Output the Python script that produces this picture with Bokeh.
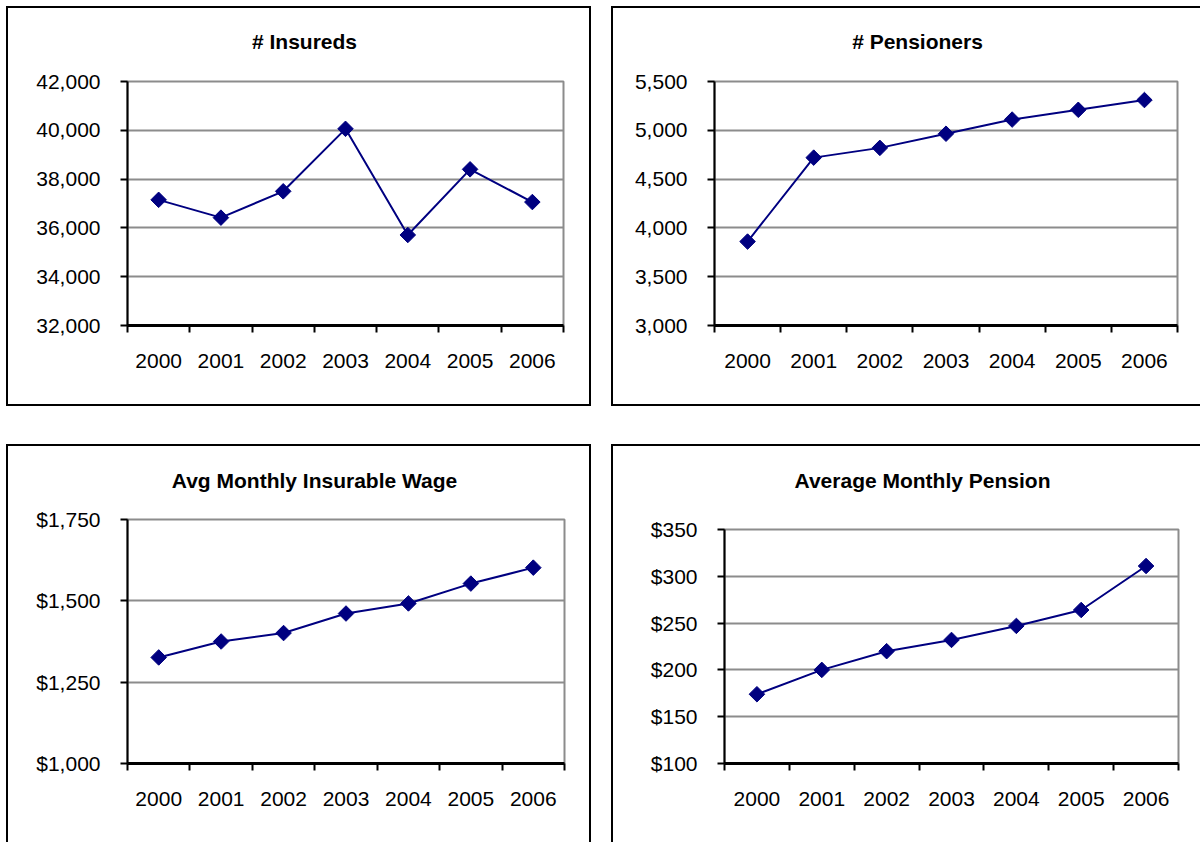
import math

from bokeh.plotting import figure
from bokeh.layouts import column, row
from bokeh.models import FixedTicker, NumeralTickFormatter, LinearAxis
from bokeh.embed import file_html
from bokeh.resources import INLINE

# Yearly series
years = ["2000", "2001", "2002", "2003", "2004", "2005", "2006"]
insureds = [37150, 36420, 37500, 40060, 35710, 38400, 37060]
pensioners = [3860, 4720, 4820, 4965, 5110, 5210, 5310]
wage = [1326, 1375, 1401, 1461, 1492, 1553, 1602]
pension = [174, 200, 220, 232, 247, 264, 311]

# Value-axis ticks for each chart
insureds_ticks = [32000, 34000, 36000, 38000, 40000, 42000]
pensioners_ticks = [3000, 3500, 4000, 4500, 5000, 5500]
wage_ticks = [1000, 1250, 1500, 1750]
pension_ticks = [100, 150, 200, 250, 300, 350]

FONT = "Liberation Sans"
NAVY = "#000080"
GRID = "#8c8c8c"
TEXT_SIZE = "21px"
BORDER = 2


def make_chart(title, values, yticks, fmt, width, height, borders, title_pos,
               box_sides, margin):
    """borders and title_pos are measured from the inner top-left corner of the box."""
    left, right, top, bottom = borders
    n = len(years)
    xs = [i + 0.5 for i in range(n)]
    y0, y1 = yticks[0], yticks[-1]

    css = {f"border-{side}": f"{BORDER}px solid black" for side in box_sides}

    p = figure(width=width, height=height, x_range=(0, n), y_range=(y0, y1),
               output_backend="svg", toolbar_location=None,
               min_border_left=left, min_border_right=right,
               min_border_top=top, min_border_bottom=bottom,
               background_fill_color="white", border_fill_color="white",
               outline_line_color=GRID, outline_line_width=2,
               margin=margin, styles=css)

    # series
    p.line(xs, values, line_color=NAVY, line_width=2)
    p.scatter(xs, values, marker="square", angle=math.pi / 4, size=11,
              fill_color=NAVY, line_color=NAVY)

    # category axis: labels centred in each slot, ticks on slot boundaries
    xa = p.xaxis[0]
    xa.ticker = FixedTicker(ticks=xs, minor_ticks=list(range(n + 1)))
    xa.major_label_overrides = {x: yr for x, yr in zip(xs, years)}
    xa.major_tick_in = 0
    xa.major_tick_out = 0
    xa.minor_tick_in = 0
    xa.minor_tick_out = 7
    xa.minor_tick_line_color = "black"
    xa.minor_tick_line_width = 2
    xa.axis_line_color = "black"
    xa.axis_line_width = 3
    xa.major_label_text_font = FONT
    xa.major_label_text_font_size = TEXT_SIZE
    xa.major_label_text_color = "black"
    xa.major_label_standoff = 21

    # value axis
    ya = p.yaxis[0]
    ya.ticker = FixedTicker(ticks=yticks)
    ya.formatter = NumeralTickFormatter(format=fmt)
    ya.major_tick_in = 0
    ya.major_tick_out = 7
    ya.major_tick_line_color = "black"
    ya.major_tick_line_width = 2
    ya.minor_tick_line_color = None
    ya.axis_line_color = "black"
    ya.axis_line_width = 2
    ya.major_label_text_font = FONT
    ya.major_label_text_font_size = TEXT_SIZE
    ya.major_label_text_color = "black"
    ya.major_label_standoff = 20

    p.xgrid.visible = False
    p.ygrid.grid_line_color = GRID
    p.ygrid.grid_line_width = 2

    # chart title, centred over the whole chart box (not just the plot area)
    frame_w = width - left - right
    cx, cy = title_pos
    tx = (cx - left) / frame_w * n
    head = LinearAxis(ticker=FixedTicker(ticks=[tx], minor_ticks=[]),
                      major_label_overrides={tx: title},
                      axis_line_color=None, major_tick_line_color=None,
                      minor_tick_line_color=None,
                      major_label_text_font=FONT,
                      major_label_text_font_style="bold",
                      major_label_text_font_size=TEXT_SIZE,
                      major_label_text_color="black",
                      major_label_standoff=max(top - cy - 16, 0))
    p.add_layout(head, "above")
    return p


p1 = make_chart("# Insureds", insureds, insureds_ticks, "0,0",
                585, 400, (119, 30, 73, 83), (296, 34),
                ("left", "top", "right", "bottom"), (6, 0, 0, 6))
p2 = make_chart("# Pensioners", pensioners, pensioners_ticks, "0,0",
                589, 400, (101, 25, 73, 83), (304, 34),
                ("left", "top", "bottom"), (6, 0, 0, 20))
p3 = make_chart("Avg Monthly Insurable Wage", wage, wage_ticks, "$0,0",
                585, 398, (119, 29, 73, 81), (306, 35),
                ("left", "top", "right"), (38, 0, 0, 6))
p4 = make_chart("Average Monthly Pension", pension, pension_ticks, "$0,0",
                589, 398, (111, 24, 83, 81), (309, 35),
                ("left", "top"), (38, 0, 0, 20))

page = column(row(column(p1), column(p2)), row(column(p3), column(p4)))

open("out.html", "w").write(file_html(page, INLINE))
